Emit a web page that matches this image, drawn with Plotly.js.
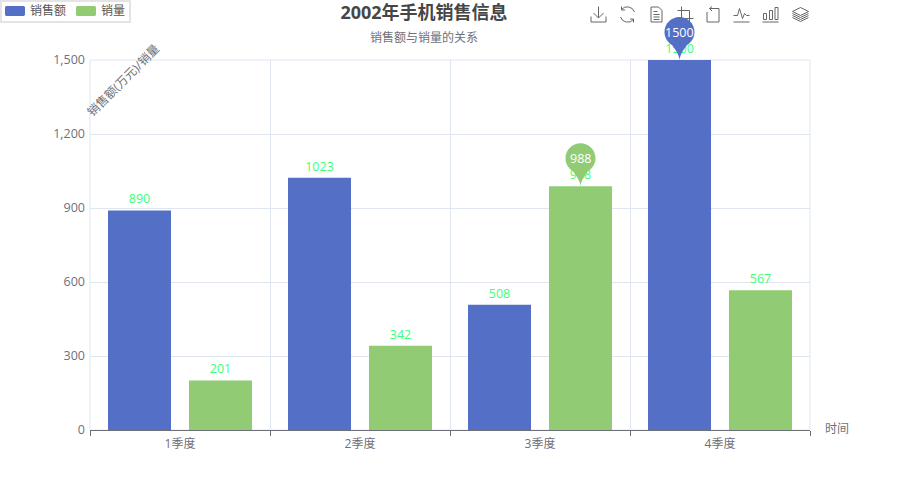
<!DOCTYPE html>
<html><head><meta charset="utf-8">
<script src="https://cdn.plot.ly/plotly-3.0.0.min.js"></script>
<style>html,body{margin:0;padding:0;background:#fff}#c{width:900px;height:500px}</style></head>
<body><div id="c"></div>
<script>
const categories = ["1季度", "2季度", "3季度", "4季度"];
const salesName = "销售额";
const volumeName = "销量";
const salesValues = [890, 1023, 508, 1500];
const volumeValues = [201, 342, 988, 567];
const yTicks = [0, 300, 600, 900, 1200, 1500];
const BLUE = "#5470c6", GREEN = "#91cc75", TEXT = "#6e7079", LABEL = "#3dff75", GRID = "#e0e6f1";
const FONT = '"Open Sans","Noto Sans CJK SC",sans-serif';

const W = 900, H = 500, L = 90, R = 810, T = 60, B = 430;
const px = x => (x - L) / (R - L), py = y => (B - y) / (B - T);
const yMax = yTicks[yTicks.length - 1];

function bar(name, vals, color) {
  return {type: "bar", name, x: categories, y: vals, marker: {color},
    text: vals.map(String), textposition: "outside", cliponaxis: false,
    textfont: {color: LABEL, size: 12.5, family: FONT}, hoverinfo: "x+y", showlegend: false};
}
const data = [bar(salesName, salesValues, BLUE), bar(volumeName, volumeValues, GREEN)];

const PIN = "M0,0 C-.5,5 -3,9 -7.5,15 C-12.14,17.68 -15,22.64 -15,28 C-15,36.28 -8.28,43 0,43 " +
            "C8.28,43 15,36.28 15,28 C15,22.64 12.14,17.68 7.5,15 C3,9 .5,5 0,0 Z";
const OFFSET = 0.225;
function maxPin(vals, off, color) {
  const i = vals.indexOf(Math.max(...vals));
  const xf = (i + 0.5 + off) / categories.length, yf = vals[i] / yMax;
  return {
    shape: {type: "path", layer: "above", xref: "paper", yref: "paper", xsizemode: "pixel", ysizemode: "pixel",
      xanchor: xf, yanchor: yf, path: PIN, fillcolor: color, line: {width: 0}},
    ann: {xref: "paper", yref: "paper", x: xf, y: yf, yshift: 28, text: String(vals[i]), showarrow: false,
      xanchor: "center", yanchor: "middle", font: {color: "#fff", size: 12.5, family: FONT}}
  };
}
const pins = [maxPin(salesValues, -OFFSET, BLUE), maxPin(volumeValues, OFFSET, GREEN)];

/* legend, drawn at its reference place */
const SW = "M-8,5 C-9.5,5 -10,4.5 -10,3 V-3 C-10,-4.5 -9.5,-5 -8,-5 H8 C9.5,-5 10,-4.5 10,-3 V3 C10,4.5 9.5,5 8,5 Z";
const legendItems = [[salesName, BLUE, 15, 30], [volumeName, GREEN, 86, 101]];
const legendShapes = [
  {type: "rect", xref: "paper", yref: "paper", x0: px(1), x1: px(130), y0: py(1), y1: py(22),
   fillcolor: "#fff", line: {color: "#e4e4e4", width: 2}, layer: "above"},
  ...legendItems.map(([, c, sx]) => ({type: "path", layer: "above", xref: "paper", yref: "paper",
    xsizemode: "pixel", ysizemode: "pixel", xanchor: px(sx), yanchor: py(11), path: SW, fillcolor: c, line: {width: 0}}))
];
const legendTexts = legendItems.map(([t, , , tx]) => ({xref: "paper", yref: "paper", x: px(tx), y: py(10.5), text: t,
  showarrow: false, xanchor: "left", yanchor: "middle", xshift: -2, font: {size: 12, color: "#555", family: FONT}}));

const ICONS = [
  [590, "M8 0V11M3 6.5L8 11.5 13 6.5M0.5 10V15.5H15.5V10"],
  [619, "M15 5.5A7.6 7.6 0 0 0 2 3M2 0V3.5H5.5M1 10.5A7.6 7.6 0 0 0 14 13M14 16V12.5H10.5"],
  [648, "M3 0.5H10L13.5 4V15.5H2.5V0.5ZM5 5H9M5 8H11M5 10.5H11M5 13H11"],
  [677, "M4 0V12H16M0 4H12V16"],
  [705, "M1.5 5.5V15.5H13.5V2H4M4 2L6.5 0M4 2L6.5 4.5"],
  [733, "M0 15.5H16M0 9H4L6 2 9 12 11 7 13 9H16"],
  [762, "M0 15.5H16M1 7H4V13H1ZM7 4H10V13H7ZM12.5 1H15.5V13H12.5Z"],
  [792, "M8 1L16 5 8 9 0 5ZM0 7L8 11 16 7M0 9L8 13 16 9M0 11L8 15 16 11"]
];
const images = ICONS.map(([x, d]) => ({
  source: "data:image/svg+xml;utf8," + encodeURIComponent(
    `<svg xmlns="http://www.w3.org/2000/svg" width="17" height="18" viewBox="-.5 -.5 17 18"><path d="${d}" fill="none" stroke="#666" stroke-width="1"/></svg>`),
  xref: "paper", yref: "paper", x: px(x), y: py(6), sizex: px(x + 17) - px(x), sizey: py(6) - py(24),
  xanchor: "left", yanchor: "top", sizing: "stretch", layer: "above"
}));

const layout = {
  width: W, height: H, autosize: false, showlegend: false,
  margin: {l: L, r: W - R, t: T, b: H - B, pad: 0},
  paper_bgcolor: "#fff", plot_bgcolor: "#fff",
  font: {family: FONT, color: TEXT, size: 12},
  title: {text: "2002年手机销售信息", x: 424 / W, xanchor: "center", y: 1 - 13 / H, yanchor: "middle",
    xref: "container", yref: "container", font: {size: 18, weight: 700, color: "#464646", family: FONT}},
  barmode: "group", bargap: 0.1, bargroupgap: 0.2222,
  xaxis: {type: "category", tickson: "boundaries", ticks: "outside", ticklen: 5, tickcolor: TEXT, tickwidth: 1,
    showline: true, linecolor: TEXT, linewidth: 1, showgrid: true, gridcolor: GRID, gridwidth: 1, ticklabelstandoff: 3,
    zeroline: false, tickfont: {size: 12, color: TEXT, family: FONT}, fixedrange: true},
  yaxis: {range: [0, yMax], tickvals: yTicks, tickformat: ",", ticks: "", ticklen: 0, showline: false, ticklabelstandoff: 4,
    showgrid: true, gridcolor: GRID, gridwidth: 1, zeroline: false,
    tickfont: {size: 12.5, color: TEXT, family: FONT}, fixedrange: true},
  shapes: [
    {type: "rect", layer: "below", xref: "paper", yref: "paper", x0: 0, x1: 1, y0: 0, y1: 1, line: {color: GRID, width: 1}},
    ...pins.map(p => p.shape), ...legendShapes],
  images,
  annotations: [
    {xref: "paper", yref: "paper", x: px(424), y: py(38), text: "销售额与销量的关系", showarrow: false,
      xanchor: "center", yanchor: "middle", font: {size: 12, color: TEXT, family: FONT}},
    {xref: "paper", yref: "paper", x: px(123), y: py(81), text: "销售额(万元)/销量", textangle: -45, showarrow: false,
      xanchor: "center", yanchor: "middle", font: {size: 12, color: TEXT, family: FONT}},
    {xref: "paper", yref: "paper", x: px(837), y: py(428), text: "时间", showarrow: false,
      xanchor: "center", yanchor: "middle", font: {size: 12, color: TEXT, family: FONT}},
    ...legendTexts,
    ...pins.map(p => p.ann)
  ]
};
Plotly.newPlot("c", data, layout, {displayModeBar: false, responsive: false});
</script></body></html>
